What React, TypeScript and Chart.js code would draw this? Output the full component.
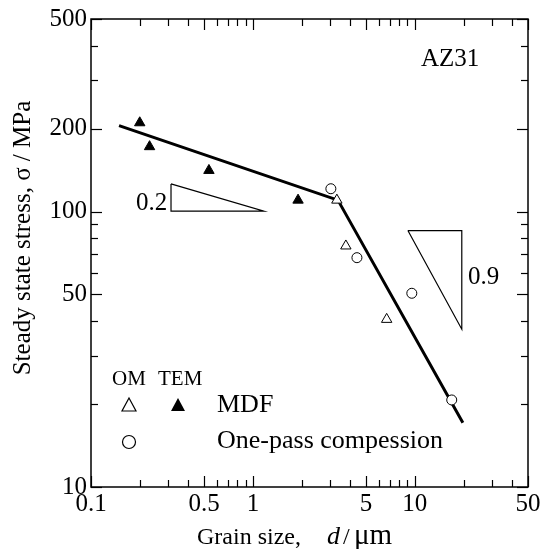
import React, { useEffect, useRef } from 'react';
import { Chart, registerables } from 'chart.js';

Chart.register(...registerables);

// Axis ticks
const X_TICKS = [0.1, 0.5, 1, 5, 10, 50];
const Y_TICKS = [10, 50, 100, 200, 500];
const X_MINOR = [0.2, 0.3, 0.4, 0.6, 0.7, 0.8, 0.9, 2, 3, 4, 6, 7, 8, 9, 20, 30, 40];
const Y_MINOR = [20, 30, 40, 60, 70, 80, 90, 300, 400];

// MDF, TEM (filled triangles)
const mdfTemD = [0.2, 0.23, 0.535, 1.9];
const mdfTemS = [210, 172, 141, 110];
// MDF, OM (open triangles)
const mdfOmD = [3.3, 3.75, 6.7];
const mdfOmS = [110, 75, 40.6];
// One-pass compression (open circles)
const onePassD = [3.03, 4.39, 9.58, 16.9];
const onePassS = [121, 68, 50.5, 20.7];
// Fitted line
const fitD = [0.149, 3.35, 19.8];
const fitS = [205, 110, 17.1];
// Slope triangles
const slopeAD = [0.312, 0.312, 1.17, 0.312];
const slopeAS = [126, 100.4, 100.4, 126];
const slopeBD = [9.06, 19.5, 19.5, 9.06];
const slopeBS = [85.3, 85.3, 37.4, 85.3];

const pts = (xs: number[], ys: number[]) => xs.map((x, i) => ({ x, y: ys[i] }));

const SERIF = '"Liberation Serif", "DejaVu Serif", serif';

const decor = {
  id: 'decor',
  afterDraw(chart: any) {
    const { ctx, chartArea: a, scales } = chart;
    const x = scales.x;
    const y = scales.y;
    ctx.save();
    ctx.strokeStyle = '#000';
    ctx.fillStyle = '#000';
    ctx.lineWidth = 1.5;
    ctx.strokeRect(a.left, a.top, a.right - a.left, a.bottom - a.top);
    ctx.lineWidth = 1.2;
    const seg = (x1: number, y1: number, x2: number, y2: number) => {
      ctx.beginPath();
      ctx.moveTo(x1, y1);
      ctx.lineTo(x2, y2);
      ctx.stroke();
    };
    const xt = (vals: number[], len: number) => {
      for (const v of vals) {
        const p = Math.round(x.getPixelForValue(v)) + 0.5;
        seg(p, a.bottom, p, a.bottom - len);
        seg(p, a.top, p, a.top + len);
      }
    };
    const yt = (vals: number[], len: number) => {
      for (const v of vals) {
        const p = Math.round(y.getPixelForValue(v)) + 0.5;
        seg(a.left, p, a.left + len, p);
        seg(a.right, p, a.right - len, p);
      }
    };
    xt(X_TICKS, 11);
    xt(X_MINOR, 7);
    yt(Y_TICKS, 11);
    yt(Y_MINOR, 7);

    // Axis titles
    ctx.textBaseline = 'alphabetic';
    ctx.textAlign = 'center';
    ctx.save();
    ctx.translate(30, 238);
    ctx.rotate(-Math.PI / 2);
    ctx.font = `25px ${SERIF}`;
    ctx.fillText('Steady state stress, σ / MPa', 0, 0);
    ctx.restore();

    ctx.textAlign = 'left';
    ctx.font = `24px ${SERIF}`;
    ctx.fillText('Grain size,', 197, 544);
    ctx.font = `italic 26px ${SERIF}`;
    ctx.fillText('d', 327, 544);
    ctx.font = `24px ${SERIF}`;
    ctx.fillText('/', 343, 544);
    ctx.font = `29px ${SERIF}`;
    ctx.fillText('μm', 354, 544);

    // Annotations
    ctx.font = `25px ${SERIF}`;
    ctx.fillText('AZ31', 421, 66);
    ctx.fillText('0.2', 136, 210);
    ctx.fillText('0.9', 468, 284);

    // Legend
    ctx.font = `21px ${SERIF}`;
    ctx.fillText('OM', 112, 385);
    ctx.fillText('TEM', 158, 385);
    ctx.font = `26px ${SERIF}`;
    ctx.fillText('MDF', 217, 412);
    ctx.fillText('One-pass compession', 217, 448);

    ctx.lineWidth = 1.2;
    const tri = (cx: number, fill: boolean) => {
      ctx.beginPath();
      ctx.moveTo(cx, 398);
      ctx.lineTo(cx + 7, 411);
      ctx.lineTo(cx - 7, 411);
      ctx.closePath();
      if (fill) ctx.fill();
      else ctx.stroke();
    };
    tri(129, false);
    tri(178, true);
    ctx.beginPath();
    ctx.arc(129, 442, 6.5, 0, Math.PI * 2);
    ctx.stroke();
    ctx.restore();
  },
};

export default function App() {
  const ref = useRef<HTMLCanvasElement | null>(null);
  useEffect(() => {
    if (!ref.current) return;
    const chart = new Chart(ref.current, {
      type: 'scatter',
      data: {
        datasets: [
          {
            data: pts(fitD, fitS),
            showLine: true,
            borderColor: '#000',
            borderWidth: 3,
            pointRadius: 0,
            order: 10,
          } as any,
          {
            data: pts(slopeAD, slopeAS),
            showLine: true,
            borderColor: '#000',
            borderWidth: 1.2,
            pointRadius: 0,
            order: 10,
          },
          {
            data: pts(slopeBD, slopeBS),
            showLine: true,
            borderColor: '#000',
            borderWidth: 1.2,
            pointRadius: 0,
            order: 10,
          },
          {
            data: pts(mdfTemD, mdfTemS),
            pointStyle: 'triangle',
            pointRadius: 6,
            backgroundColor: '#000',
            borderColor: '#000',
            borderWidth: 1,
            order: 1,
          },
          {
            data: pts(mdfOmD, mdfOmS),
            pointStyle: 'triangle',
            pointRadius: 6,
            backgroundColor: '#fff',
            borderColor: '#000',
            borderWidth: 1,
            order: 1,
          },
          {
            data: pts(onePassD, onePassS),
            pointStyle: 'circle',
            pointRadius: 5,
            backgroundColor: '#fff',
            borderColor: '#000',
            borderWidth: 1,
            order: 1,
          },
        ],
      },
      options: {
        animation: false,
        responsive: false,
        maintainAspectRatio: false,
        events: [],
        layout: { padding: { left: 0, right: 17, top: 18, bottom: 0 } },
        plugins: { legend: { display: false }, tooltip: { enabled: false } },
        scales: {
          x: {
            type: 'logarithmic',
            min: 0.1,
            max: 50,
            grid: { display: false, drawTicks: false },
            border: { display: false },
            afterFit: (s: any) => {
              s.height = 62;
            },
            afterBuildTicks: (s: any) => {
              s.ticks = X_TICKS.map((v) => ({ value: v }));
            },
            ticks: {
              autoSkip: false,
              maxRotation: 0,
              padding: 2,
              color: '#000',
              font: { family: SERIF, size: 25 },
              callback: (v: any) => String(v),
            },
          },
          y: {
            type: 'logarithmic',
            min: 10,
            max: 500,
            grid: { display: false, drawTicks: false },
            border: { display: false },
            afterFit: (s: any) => {
              s.width = 91;
            },
            afterBuildTicks: (s: any) => {
              s.ticks = Y_TICKS.map((v) => ({ value: v }));
            },
            ticks: {
              autoSkip: false,
              padding: 4,
              color: '#000',
              font: { family: SERIF, size: 25 },
              callback: (v: any) => String(v),
            },
          },
        },
      },
      plugins: [decor],
    });
    return () => chart.destroy();
  }, []);
  return (
    <div style={{ position: 'fixed', left: 0, top: 0, width: 545, height: 549, background: '#fff' }}>
      <canvas ref={ref} width={545} height={549} />
    </div>
  );
}
